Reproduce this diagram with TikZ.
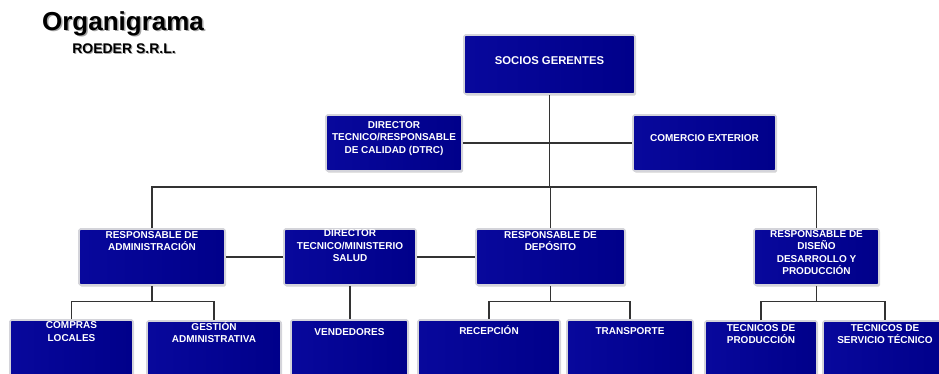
\documentclass[tikz,border=0pt]{standalone}
\usepackage{fontspec}
\setmainfont{Liberation Sans}
\usetikzlibrary{shadows}
\definecolor{navy}{RGB}{0,0,138}
\definecolor{navylt}{RGB}{8,8,156}
\definecolor{rim}{RGB}{212,212,218}

\begin{document}
\begin{tikzpicture}[x=1pt, y=-1pt,
  box/.style={draw=rim, line width=1.6pt, rounded corners=1.5pt, left color=navylt, right color=navy,
              drop shadow={shadow xshift=1pt, shadow yshift=-1.5pt, opacity=0.35}, inner sep=0pt},
  txt/.style={text=white, font=\fontsize{10}{12.3}\selectfont\bfseries, align=center,
              inner sep=0pt, anchor=north},
  conn/.style={draw=black!80, line width=1.1pt}]

  \useasboundingbox (0,0) rectangle (939,373);
  \clip (0,0) rectangle (939,373);

  % ----- Title -----
  \node[anchor=base, text=black!35, font=\fontsize{26}{28}\selectfont\bfseries] (title-sh) at (124.5,31.5) {Organigrama};
  \node[anchor=base, font=\fontsize{26}{28}\selectfont\bfseries] (title) at (123,30.3) {Organigrama};
  \node[anchor=base, text=black!35, font=\fontsize{14}{16}\selectfont\bfseries] (sub-sh) at (125,54) {ROEDER S.R.L.};
  \node[anchor=base, font=\fontsize{14}{16}\selectfont\bfseries] (sub) at (124,53) {ROEDER S.R.L.};

  % ----- Top level -----
  \node[box, minimum width=171pt, minimum height=59pt] (socios) at (549.5,64.5) {};
  \node[txt, font=\fontsize{11.3}{13}\selectfont\bfseries] (socios-t) at (549.5,56) {SOCIOS GERENTES};

  \node[box, minimum width=136pt, minimum height=56pt] (dtrc) at (394,143) {};
  \node[txt] (dtrc-t) at (394,121.4) {DIRECTOR\\TECNICO/RESPONSABLE\\DE CALIDAD (DTRC)};

  \node[box, minimum width=143pt, minimum height=56pt] (comex) at (704.5,143) {};
  \node[txt] (comex-t) at (704.5,134.7) {COMERCIO EXTERIOR};

  % ----- Second level -----
  \node[box, minimum width=146pt, minimum height=56pt] (adm) at (152,257) {};
  \node[txt] (adm-t) at (152,231.4) {RESPONSABLE DE\\ADMINISTRACIÓN};

  \node[box, minimum width=132pt, minimum height=56pt] (dt) at (350,257) {};
  \node[txt] (dt-t) at (350,229.7) {DIRECTOR\\TECNICO/MINISTERIO\\SALUD};

  \node[box, minimum width=149pt, minimum height=56pt] (dep) at (550.5,257) {};
  \node[txt] (dep-t) at (550.5,231.4) {RESPONSABLE DE\\DEPÓSITO};

  \node[box, minimum width=125pt, minimum height=56pt] (dis) at (816.5,257) {};
  \node[txt] (dis-t) at (816.5,230.4) {RESPONSABLE DE\\DISEÑO\\DESARROLLO Y\\PRODUCCIÓN};

  % ----- Third level -----
  \node[box, minimum width=123pt, minimum height=57pt] (compras) at (71.5,348.5) {};
  \node[txt] (compras-t) at (71.5,321.7) {COMPRAS\\LOCALES};

  \node[box, minimum width=134pt, minimum height=57pt] (gestion) at (214,349.5) {};
  \node[txt] (gestion-t) at (214,321.2) {GESTIÓN\\ADMINISTRATIVA};

  \node[box, minimum width=117pt, minimum height=57pt] (vend) at (349.5,348.5) {};
  \node[txt] (vend-t) at (349.5,328.4) {VENDEDORES};

  \node[box, minimum width=142pt, minimum height=57pt] (rec) at (489,348.5) {};
  \node[txt] (rec-t) at (489,325.3) {RECEPCIÓN};

  \node[box, minimum width=126pt, minimum height=57pt] (trans) at (630,348.5) {};
  \node[txt] (trans-t) at (630,327.4) {TRANSPORTE};

  \node[box, minimum width=112pt, minimum height=57pt] (tprod) at (761,349.5) {};
  \node[txt] (tprod-t) at (761,323.9) {TECNICOS DE\\PRODUCCIÓN};

  \node[box, minimum width=124pt, minimum height=57pt] (tserv) at (885,349.5) {};
  \node[txt] (tserv-t) at (885,323.9) {TECNICOS DE\\SERVICIO TÉCNICO};

  % ----- Connectors -----
  \coordinate (bus) at (0,187);
  \draw[conn] (socios.south) -- (socios.south |- bus);
  \draw[conn] (dtrc.east) -- (comex.west);
  \draw[conn] (adm.north) -- (adm.north |- bus) -- (dis.north |- bus) -- (dis.north);
  \draw[conn] (dep.north) -- (dep.north |- bus);

  \draw[conn] (adm.east) -- (dt.west);
  \draw[conn] (dt.east) -- (dep.west);

  \coordinate (sub) at (0,301.5);
  \draw[conn] (adm.south) -- (adm.south |- sub);
  \draw[conn] (compras.north) -- (compras.north |- sub) -- (gestion.north |- sub) -- (gestion.north);
  \draw[conn] (dt.south) -- (dt.south |- vend.north);
  \draw[conn] (dep.south) -- (dep.south |- sub);
  \draw[conn] (rec.north) -- (rec.north |- sub) -- (trans.north |- sub) -- (trans.north);
  \draw[conn] (dis.south) -- (dis.south |- sub);
  \draw[conn] (tprod.north) -- (tprod.north |- sub) -- (tserv.north |- sub) -- (tserv.north);

\end{tikzpicture}
\end{document}
